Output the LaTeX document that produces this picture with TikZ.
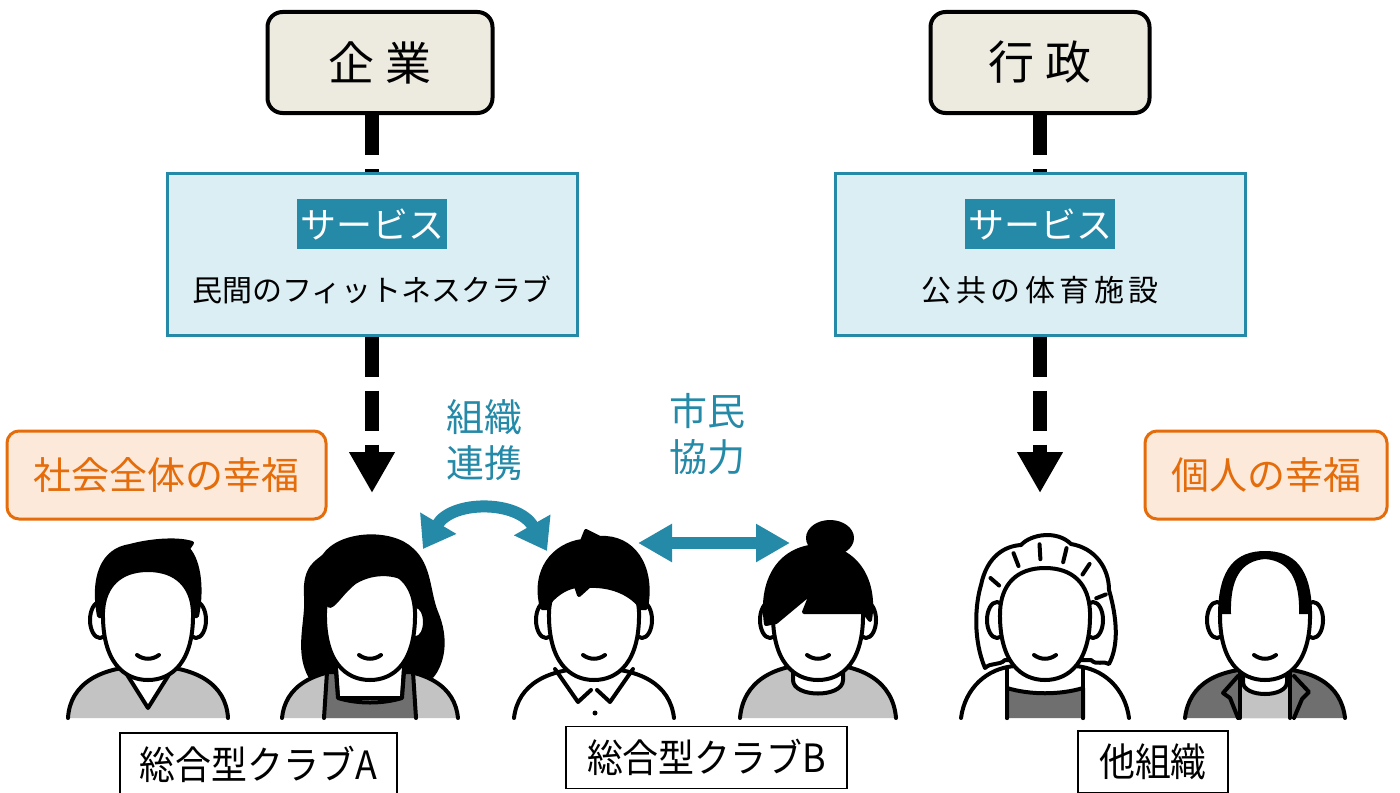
\documentclass[tikz,border=0pt]{standalone}
\usepackage{fontspec}
\setmainfont{Noto Sans CJK JP}
\newfontfamily\clubfont[FakeStretch=0.92]{Noto Sans CJK JP}
\newfontfamily\widefont[LetterSpace=15]{Noto Sans CJK JP}
\usetikzlibrary{arrows.meta}

\definecolor{svcteal}{HTML}{2589A8}
\definecolor{svcfill}{HTML}{DBEEF4}
\definecolor{corpfill}{HTML}{EDEAE0}
\definecolor{happyorange}{HTML}{E46C0A}
\definecolor{happyfill}{HTML}{FCE9DA}
\definecolor{shirtlight}{HTML}{C3C3C3}
\definecolor{shirtdark}{HTML}{6F6F6F}

\begin{document}
\begin{tikzpicture}[x=0.5pt, y=-0.5pt]

% Styles
\tikzset{
    corpbox/.style={
        draw, line width=2pt, rounded corners=7.5pt, fill=corpfill,
        minimum height=50.5pt, font=\fontsize{23pt}{27pt}\selectfont
    },
    svcbox/.style={
        draw=svcteal, line width=1.5pt, fill=svcfill,
        minimum width=205pt, minimum height=81pt
    },
    svctag/.style={
        fill=svcteal, text=white, inner xsep=1.5pt, minimum height=25pt,
        font=\fontsize{18pt}{21pt}\selectfont
    },
    svcname/.style={inner sep=0pt, font=\fontsize{15pt}{18pt}\selectfont},
    happybox/.style={
        draw=happyorange, text=happyorange, line width=1.5pt,
        rounded corners=6pt, fill=happyfill, minimum height=44pt,
        font=\fontsize{19pt}{22pt}\selectfont
    },
    linktext/.style={
        text=svcteal, align=center, inner sep=0pt,
        font=\fontsize{19pt}{23pt}\selectfont
    },
    clubbox/.style={
        draw, line width=0.8pt, minimum height=31pt,
        font=\clubfont\fontsize{19.5pt}{22pt}\selectfont
    },
    flowline/.style={line width=7pt, dash pattern=on 20pt off 7pt},
    flowtip/.style={-{Triangle[length=20.5pt,width=21.5pt]}},
    linkarrow/.style={
        svcteal, line width=6pt,
        {Triangle[length=17pt,width=18pt]}-{Triangle[length=17pt,width=18pt]}
    },
    outline/.style={line width=2pt, line join=round, line cap=round},
    skin/.style={outline, fill=white},
    hair/.style={outline, fill=black},
    shirtA/.style={outline, fill=shirtlight},
    shirtB/.style={outline, fill=shirtdark},
    % head parts, drawn round x=0 of the current scope
    pics/ears/.style={code={
        \filldraw[skin] (-48,620) ellipse [x radius=10, y radius=18];
        \filldraw[skin] (48,620) ellipse [x radius=10, y radius=18];
    }},
    pics/face/.style={code={
        \filldraw[skin]
            (-45,612) .. controls (-46,662) and (-24,680) .. (0,680)
            .. controls (24,680) and (46,662) .. (45,612)
            .. controls (44,#1+16) and (28,#1) .. (0,#1)
            .. controls (-28,#1) and (-44,#1+16) .. cycle;
    }},
    pics/smile/.style={code={
        \draw[outline] (-11,655) .. controls (-4,660) and (4,660) .. (11,655);
    }}
}

% Canvas
\fill[white] (0,0) rectangle (1400,792);
\useasboundingbox (0,0) rectangle (1400,792);

% Providers
\node[corpbox, minimum width=112.5pt] (kigyo) at (380,62.5) {企\hspace{6pt}業};
\node[corpbox, minimum width=109.5pt] (gyosei) at (1040,62.5) {行\hspace{6pt}政};

% Services
\node[svcbox] (svcA) at (372,254) {};
\node[svctag] (tagA) at (372,224) {サービス};
\node[svcname] (nameA) at (372,290) {民間のフィットネスクラブ};

\node[svcbox] (svcB) at (1040,254) {};
\node[svctag] (tagB) at (1040,224) {サービス};
\node[svcname] (nameB) at (1040,290) {\widefont 公共の体育施設};

% Arrow tips
\coordinate (tipA) at (372,493);
\coordinate (tipB) at (1040,493);

% Provider -> service -> people
\draw[flowline] (kigyo.south -| svcA.north) -- (svcA.north);
\draw[flowline, flowtip] (svcA.south) -- (tipA);
\draw[flowline] (gyosei.south -| svcB.north) -- (svcB.north);
\draw[flowline, flowtip] (svcB.south) -- (tipB);

% Wellbeing labels
\node[happybox, minimum width=159.5pt] (society) at (166.5,475) {社会全体の幸福};
\node[happybox, minimum width=121pt] (individual) at (1266,475) {個人の幸福};

% Links between the clubs
\node[linktext] (orgLink) at (484,440) {組織\\連携};
\node[linktext] (civicCoop) at (707,434) {市民\\協力};

\coordinate (orgL) at (423,549);
\coordinate (orgR) at (547,551);
\draw[
    linkarrow,
    {Triangle[length=15pt,width=20pt]}-{Triangle[length=15pt,width=20pt]}
]
    (orgL) .. controls (452,500) and (518,500) .. (orgR);

\coordinate (civL) at (638,543);
\coordinate (civR) at (790,543);
\draw[linkarrow] (civL) -- (civR);

% Man, V-neck jumper
\begin{scope}[shift={(148,0)}]
    \filldraw[shirtA] (-80,718) .. controls (-78,684) and (-48,666) .. (0,666)
        .. controls (48,666) and (78,684) .. (80,718);
    \filldraw[skin] (-27,665) -- (0,708) -- (27,665);
    \pic {ears};
    \filldraw[hair] (-49,616) .. controls (-56,578) and (-46,550) .. (-18,546)
        .. controls (0,541) and (28,538) .. (44,543) -- (40,549)
        .. controls (52,562) and (54,592) .. (49,616) -- cycle;
    \pic {face=570};
    \pic {smile};
\end{scope}

% Woman, wavy hair and pinafore
\begin{scope}[shift={(370,0)}]
    \filldraw[hair] (-60,676) .. controls (-74,650) and (-62,620) .. (-64,596)
        .. controls (-66,566) and (-52,562) .. (-46,556)
        .. controls (-30,532) and (22,530) .. (42,550)
        .. controls (60,566) and (58,592) .. (66,612)
        .. controls (78,640) and (72,664) .. (62,676) -- cycle;
    \filldraw[shirtA] (-88,718) .. controls (-85,688) and (-60,668) .. (0,668)
        .. controls (60,668) and (85,688) .. (88,718);
    \filldraw[skin] (-34,667) -- (-32,698) -- (32,698) -- (34,667);
    \filldraw[shirtB] (-46,718) -- (-43,672) -- (-34,672) -- (-32,698)
        .. controls (-12,704) and (12,704) .. (32,698) -- (34,672)
        -- (43,672) -- (46,718);
    \filldraw[skin] (46,622) ellipse [x radius=9, y radius=16];
    \pic {face=568};
    \filldraw[hair] (-46,602) .. controls (-48,575) and (-35,560) .. (-10,558)
        -- (30,558) .. controls (42,562) and (46,575) .. (46,586)
        .. controls (30,572) and (5,570) .. (-15,582)
        .. controls (-28,592) and (-34,604) .. (-40,606) -- cycle;
    \pic {smile};
\end{scope}

% Man, polo shirt
\begin{scope}[shift={(594,0)}]
    \filldraw[skin] (-80,718) .. controls (-76,684) and (-46,668) .. (0,668)
        .. controls (46,668) and (76,684) .. (80,718);
    \draw[outline] (-39,669) -- (-16,702) -- (-3,690);
    \draw[outline] (39,669) -- (16,702) -- (3,690);
    \fill (1,713) circle [radius=2.5];
    \pic {ears};
    \filldraw[hair] (-52,608) .. controls (-62,570) and (-40,545) .. (-12,541)
        -- (-8,531) -- (6,538) .. controls (38,536) and (60,565) .. (52,608) -- cycle;
    \pic {face=570};
    \filldraw[hair] (-46,604) .. controls (-47,590) and (-44,575) .. (-30,570)
        -- (30,570) .. controls (44,575) and (47,590) .. (46,606)
        .. controls (35,592) and (15,585) .. (-5,586) -- (-15,595) -- (-18,586)
        .. controls (-30,588) and (-40,596) .. cycle;
    \pic {smile};
\end{scope}

% Woman, hair bun
\begin{scope}[shift={(818,0)}]
    \filldraw[shirtA] (-78,718) .. controls (-75,682) and (-45,664) .. (0,664)
        .. controls (45,664) and (75,682) .. (78,718);
    \filldraw[skin] (-25,655) -- (-25,680) .. controls (-25,698) and (25,698) .. (25,680)
        -- (25,655);
    \pic {ears};
    \filldraw[hair] (12,538) ellipse [x radius=22, y radius=16];
    \pic {face=570};
    \filldraw[hair] (-52,624) .. controls (-58,582) and (-40,548) .. (0,546)
        .. controls (40,548) and (58,582) .. (52,620) -- (46,612) -- (-14,612)
        -- (-6,592) -- (-42,622) -- cycle;
    \pic {smile};
\end{scope}

% Older woman, cardigan
\begin{scope}[shift={(1045,0)}]
    \filldraw[skin] (-60,668) .. controls (-72,640) and (-70,605) .. (-64,585)
        .. controls (-58,556) and (-40,546) .. (-24,545)
        .. controls (-14,534) and (12,530) .. (26,544)
        .. controls (50,548) and (64,568) .. (64,590)
        .. controls (72,618) and (74,645) .. (64,664)
        .. controls (58,660) and (52,666) .. (46,660) -- (-40,660)
        .. controls (-46,666) and (-54,662) .. cycle;
    \filldraw[skin] (-84,718) .. controls (-80,688) and (-58,668) .. (-30,666)
        -- (30,666) .. controls (58,668) and (80,688) .. (84,718);
    \filldraw[shirtB] (-38,718) -- (-38,688) .. controls (-15,695) and (15,695) .. (38,688)
        -- (38,718);
    \draw[outline] (-38,668) -- (-38,718);
    \draw[outline] (38,668) -- (38,718);
    \pic {ears};
    \pic {face=568};
    \foreach \a in {15,45,70,95,120,150}
        \draw[outline] ({53*cos(\a)},{612-53*sin(\a)}) -- ({63*cos(\a)},{612-68*sin(\a)});
    \pic {smile};
\end{scope}

% Bald man, jacket
\begin{scope}[shift={(1265,0)}]
    \filldraw[shirtB] (-80,718) .. controls (-76,684) and (-48,668) .. (0,668)
        .. controls (48,668) and (76,684) .. (80,718);
    \filldraw[shirtA] (-25,718) -- (-25,669) -- (25,669) -- (25,718);
    \filldraw[skin] (-22,660) -- (-22,682) .. controls (-22,698) and (22,698) .. (22,682)
        -- (22,660);
    \draw[outline] (-27,676) -- (-42,693) -- (-35,698) -- (-27,718);
    \draw[outline] (29,676) -- (44,692) -- (37,699) -- (29,718);
    \pic {ears};
    \pic {face=553};
    \fill (-44,614) .. controls (-48,570) and (-30,553) .. (0,553)
        .. controls (30,553) and (48,570) .. (44,614) -- (34,614)
        .. controls (35,580) and (25,561) .. (0,559)
        .. controls (-25,561) and (-35,580) .. (-34,614) -- cycle;
    \pic {smile};
\end{scope}

% Groups
\node[clubbox, minimum width=138.5pt] (clubA) at (258.5,764) {総合型クラブA};
\node[clubbox, minimum width=140.5pt] (clubB) at (706.5,757.5) {総合型クラブB};
\node[clubbox, minimum width=75pt] (others) at (1153,762) {他組織};

\end{tikzpicture}
\end{document}
